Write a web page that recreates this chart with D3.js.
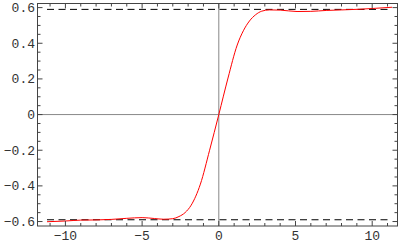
<!DOCTYPE html>
<html><head><meta charset="utf-8">
<script src="https://cdn.jsdelivr.net/npm/d3@7"></script>
<style>body{margin:0;background:#fff}svg{display:block}</style>
</head><body>
<svg id="c" width="400" height="245"></svg>
<script>
const curveX = [-11.2,-10,-9,-8,-7,-6,-5,-4.2,-3.6,-3.0,-2.6,-2.2,-1.8,-1.2,-0.6,0,0.6,1.2,1.6,2.0,2.4,2.8,3.3,4.0,5.1,6,7,8,9.2,10.2,11.3];
const curveY = [-0.601,-0.597,-0.592,-0.591,-0.588,-0.582,-0.578,-0.583,-0.587,-0.584,-0.572,-0.55,-0.508,-0.39,-0.2,0,0.205,0.39,0.47,0.525,0.56,0.58,0.587,0.586,0.578,0.579,0.584,0.587,0.591,0.596,0.602];
const asymptotes = [0.59,-0.59];
const asymX = [-11.2, 11.0];
const xTicks = [-10,-5,0,5,10];
const yTicks = [-0.6,-0.4,-0.2,0,0.2,0.4,0.6];
const yTickLabels = ["-0.6","-0.4","-0.2","0","0.2","0.4","0.6"];

const svg = d3.select("#c");
const L=37.5,R=397.5,T=3.5,B=226;
const x = d3.scaleLinear().domain([-11.82,11.65]).range([L,R]);
const y = d3.scaleLinear().domain([-0.625,0.623]).range([B,T]);

svg.append("line").attr("x1",x(0)).attr("x2",x(0)).attr("y1",T).attr("y2",B).attr("stroke","#888").attr("stroke-width",1);
svg.append("line").attr("x1",L).attr("x2",R).attr("y1",y(0)).attr("y2",y(0)).attr("stroke","#888").attr("stroke-width",1);

asymptotes.forEach(v=>{
  svg.append("line").attr("x1",x(asymX[0])).attr("x2",x(asymX[1])).attr("y1",y(v)).attr("y2",y(v))
    .attr("stroke","#000").attr("stroke-width",1).attr("stroke-dasharray","7,4.5");
});

const pts = curveX.map((d,i)=>[d,curveY[i]]);
svg.append("path").datum(pts).attr("fill","none").attr("stroke","#ff0000").attr("stroke-width",1)
  .attr("d",d3.line().x(d=>x(d[0])).y(d=>y(d[1])).curve(d3.curveMonotoneX));

svg.append("rect").attr("x",L).attr("y",T).attr("width",R-L).attr("height",B-T).attr("fill","none").attr("stroke","#444").attr("stroke-width",1);

const g = svg.append("g").attr("stroke","#444").attr("stroke-width",1);
d3.range(-11,12,1).forEach(v=>{
  const len = v%5===0?5:3;
  g.append("line").attr("x1",x(v)).attr("x2",x(v)).attr("y1",B).attr("y2",B-len);
  g.append("line").attr("x1",x(v)).attr("x2",x(v)).attr("y1",T).attr("y2",T+len);
});
d3.range(-12,13,1).forEach(k=>{
  const v=k*0.05;
  const len = k%4===0?5:3;
  g.append("line").attr("x1",L).attr("x2",L+len).attr("y1",y(v)).attr("y2",y(v));
  g.append("line").attr("x1",R).attr("x2",R-len).attr("y1",y(v)).attr("y2",y(v));
});

const font = "'Liberation Mono','DejaVu Sans Mono',monospace";
svg.append("g").selectAll("text").data(xTicks).join("text")
  .attr("x",d=>x(d)).attr("y",240).attr("text-anchor","middle")
  .attr("font-family",font).attr("font-size",13).attr("fill","#333")
  .text(d=>d<0?"\u2212"+Math.abs(d):String(d));
svg.append("g").selectAll("text").data(yTicks).join("text")
  .attr("x",35).attr("y",d=>y(d)+4.5).attr("text-anchor","end")
  .attr("font-family",font).attr("font-size",13).attr("fill","#333")
  .text((d,i)=>yTickLabels[i].replace("-","\u2212"));
</script>
</body></html>
